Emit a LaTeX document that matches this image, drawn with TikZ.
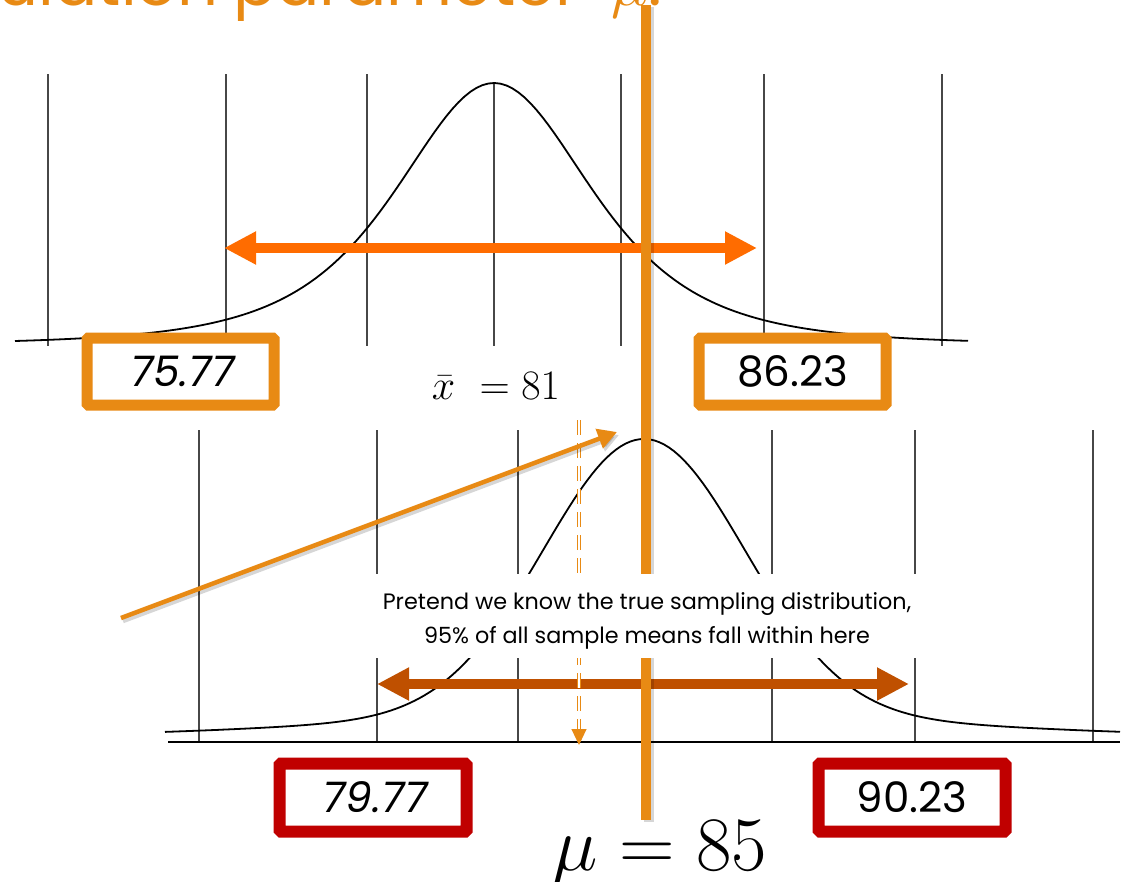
\RequirePackage{fix-cm}
\documentclass[tikz,border=0pt]{standalone}
\usepackage{fontspec}
\newfontfamily\pop{Poppins}
\newfontfamily\popit[FakeSlant=0.18]{Poppins}
\usetikzlibrary{arrows.meta}
\definecolor{boxorange}{HTML}{E88A14}
\definecolor{arrorange}{HTML}{FF6C00}
\definecolor{darkorange}{HTML}{BF5000}
\definecolor{boxred}{HTML}{C00000}
\tikzset{
  gridline/.style={draw=black!72, line width=1.4pt},
  curveline/.style={draw=black, line width=1.8pt},
  obox/.style={draw=boxorange, line width=11pt, rounded corners=1.5pt, fill=white,
    minimum width=187pt, minimum height=67pt, inner sep=0pt},
  rbox/.style={draw=boxred, line width=12pt, rounded corners=1.5pt, fill=white,
    minimum width=187pt, minimum height=68pt, inner sep=0pt},
  bigarrow/.style={line width=10pt, {Triangle[length=32pt,width=31pt]}-{Triangle[length=32pt,width=31pt]}},
  shadowline/.style={draw=black, opacity=0.16},
  pointer/.style={draw=boxorange, line width=4.5pt, -{Triangle[length=19pt,width=20pt]}},
  dashline/.style={draw=boxorange, line width=1.1pt, double=white, double distance=1.8pt, dash pattern=on 15pt off 8pt},
  numit/.style={font=\popit\fontsize{42}{48}\selectfont},
  numup/.style={font=\pop\fontsize{42}{48}\selectfont},
  titletext/.style={inner sep=0pt, text=boxorange, font=\pop\fontsize{64}{72}\selectfont},
}
\begin{document}
\begin{tikzpicture}[x=1pt,y=-1pt]
\useasboundingbox (0,0) rectangle (1126,881);
\clip (0,0) rectangle (1126,881);
\fill[white] (0,0) rectangle (1126,881);

% title (cut off at the top, covered below y=20)
\begin{scope}
\clip (0,0) rectangle (1126,20);
\node[titletext, anchor=base east] (title1) at (219,5) {ulation};
\node[titletext, anchor=base west] (title2) at (233,5) {parameter};
\node[titletext, anchor=base west] (title3) at (611,5) {$\mu$.};
\end{scope}

% ---------- top distribution ----------
\foreach \x in {48,226,367,621,764,942} \draw[gridline] (\x,74) -- (\x,346);
\draw[gridline] (494,83) -- (494,346);
\draw[curveline] plot[domain=15:968, samples=160] (\x, {345-262/(1+((\x-494)/180)^2)^2});

\coordinate (tL) at (224,248);
\coordinate (tR) at (757,248);
\draw[bigarrow, draw=arrorange, fill=arrorange] (tL) -- (tR);

% ---------- bottom distribution ----------
\foreach \x in {199,377,518,772,915,1093} \draw[gridline] (\x,430) -- (\x,742);
\draw[curveline, line width=2.2pt] (168,742) -- (1120,742);
\draw[curveline] plot[domain=165:1120, samples=200]
  (\x, {738-299*(0.92*exp(-0.5*((\x-644)/100)^2)+0.08*exp(-0.5*((\x-644)/290)^2))});

\coordinate (bL) at (377,684);
\coordinate (bR) at (909,684);
\draw[bigarrow, draw=darkorange, fill=darkorange] (bL) -- (bR);

% dashed double arrow
\coordinate (dT) at (579,420);
\coordinate (dM) at (579,729);
\coordinate (dB) at (579,745);
\draw[dashline] (dT) -- (dM);
\draw[boxorange, line width=1pt, -{Triangle[length=16pt,width=15pt]}] (dM) -- (dB);

% angled pointer
\coordinate (aS) at (121,618);
\coordinate (aE) at (617,432);
\draw[shadowline, line width=4.5pt, -{Triangle[length=19pt,width=20pt]}] ([shift={(2,3)}]aS) -- ([shift={(2,3)}]aE);
\draw[pointer] (aS) -- (aE);

% thick vertical orange line
\coordinate (vT) at (646,5);
\coordinate (vB) at (646,820);
\draw[shadowline, line width=9.5pt] ([shift={(3,2)}]vT) -- ([shift={(3,2)}]vB);
\draw[boxorange, line width=9.5pt] (vT) -- (vB);

% note
\node[fill=white, inner sep=0pt, minimum width=545pt, minimum height=84pt] (notebg) at (647,616) {};
\node[align=center, inner sep=0pt, font=\pop\fontsize{22.3}{34}\selectfont] (note) at (647,621)
  {Pretend we know the true sampling distribution,\\95\% of all sample means fall within here};

% boxes
\node[obox, numit] (lo) at (180.5,371.5) {75.77};
\node[obox, numup] (hi) at (792.5,371.5) {86.23};
\node[rbox, numit] (tlo) at (373,797.5) {79.77};
\node[rbox, numup] (thi) at (912,797.5) {90.23};

% labels
\node[anchor=base, inner sep=0pt, font=\fontsize{42}{46}\selectfont] (xbar) at (496,399) {$\bar{x}\ = 81$};
\node[anchor=base, inner sep=0pt, font=\fontsize{77}{80}\selectfont] (mu) at (660,870) {$\mu = 85$};
\end{tikzpicture}
\end{document}
